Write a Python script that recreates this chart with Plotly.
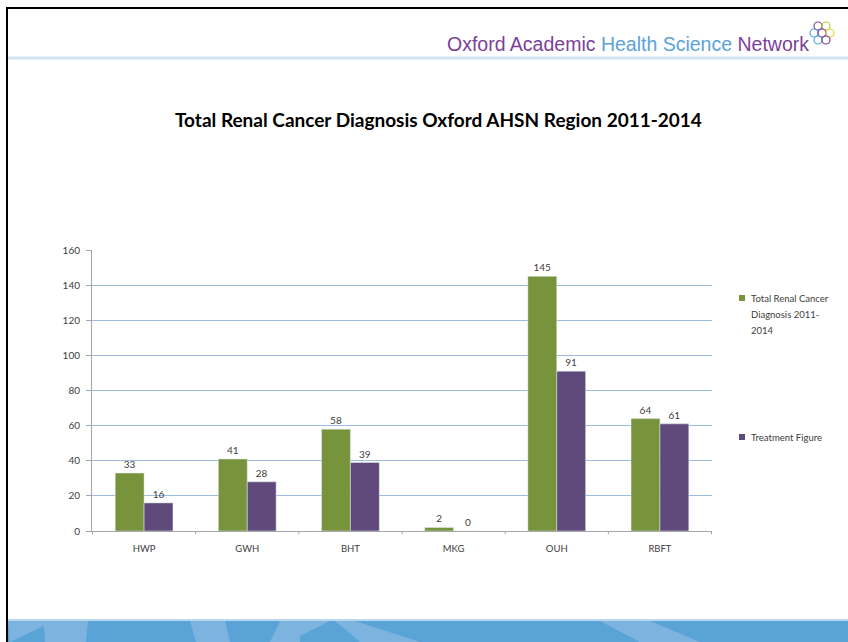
import plotly.graph_objects as go

# data
trusts = ["HWP", "GWH", "BHT", "MKG", "OUH", "RBFT"]
diagnosis = [33, 41, 58, 2, 145, 64]
treatment = [16, 28, 39, 0, 91, 61]
y_ticks = [0, 20, 40, 60, 80, 100, 120, 140, 160]
series_names = ["Total Renal Cancer Diagnosis 2011-2014", "Treatment Figure"]

GREEN = "#77933C"
PURPLE = "#604A7B"
GRID = "#9DBBDF"
TXT = "#404040"

fig = go.Figure()
for vals, name, col in [(diagnosis, series_names[0], GREEN), (treatment, series_names[1], PURPLE)]:
    fig.add_trace(go.Bar(
        x=trusts, y=vals, name=name, marker=dict(color=col),
        text=vals, textposition="outside", cliponaxis=False,
        textfont=dict(size=10, color=TXT, family="Lato"),
    ))

# the slide furniture is easier in pixel coordinates, via a helper
W, H = 848, 642
L, R, T, B = 92, 136, 250, 111
pw, ph = W - L - R, H - T - B

def px(x):
    return (x - L) / pw

def py(y):
    return (H - B - y) / ph

shapes = [
    dict(type="line", xref="paper", yref="paper", x0=px(6), x1=px(848), y0=py(8), y1=py(8),
         line=dict(color="black", width=2)),
    dict(type="line", xref="paper", yref="paper", x0=px(7), x1=px(7), y0=py(8), y1=py(642),
         line=dict(color="black", width=2)),
    dict(type="line", xref="paper", yref="paper", x0=px(8), x1=px(848), y0=py(58), y1=py(58),
         line=dict(color="#CFE3F3", width=3)),
    # footer band
    dict(type="rect", xref="paper", yref="paper", x0=px(8), x1=px(848), y0=py(620), y1=py(642),
         fillcolor="#59A3D7", line=dict(width=0), layer="below"),
    dict(type="line", xref="paper", yref="paper", x0=px(8), x1=px(848), y0=py(620), y1=py(620),
         line=dict(color="#B9D8EE", width=2)),
]

def poly(pts, color):
    path = "M " + " L ".join(f"{px(a)},{py(b)}" for a, b in pts) + " Z"
    return dict(type="path", xref="paper", yref="paper", path=path,
                fillcolor=color, line=dict(width=0), layer="below")

LIGHT = "#7DB3DF"
shapes += [
    poly([(8, 621), (88, 621), (86, 642), (45, 642), (44, 626), (10, 642)], LIGHT),
    poly([(190, 621), (225, 621), (230, 642), (196, 642)], LIGHT),
    poly([(280, 621), (330, 621), (300, 636), (300, 642), (270, 642)], LIGHT),
    poly([(335, 621), (355, 621), (420, 642), (360, 642)], LIGHT),
    poly([(600, 621), (650, 621), (700, 642), (640, 642)], LIGHT),
]

# little network logo next to header text
logo = [(818, 26, "#7B3F9B"), (826, 26, "#B5CF3A"), (814, 33, "#5BA3D9"),
        (822, 33, "#7B3F9B"), (830, 33, "#E8D43A"), (818, 40, "#5BA3D9"), (826, 40, "#7B3F9B")]
for cx, cy, col in logo:
    shapes.append(dict(type="circle", xref="paper", yref="paper",
                       x0=px(cx - 4), x1=px(cx + 4), y0=py(cy + 4), y1=py(cy - 4),
                       line=dict(color=col, width=1.2)))

# hand-made legend (Excel style: small square, text wrapped)
for top, col in [(295, GREEN), (434, PURPLE)]:
    shapes.append(dict(type="rect", xref="paper", yref="paper",
                       x0=px(739), x1=px(745), y0=py(top + 6), y1=py(top),
                       fillcolor=col, line=dict(width=0)))

annotations = [
    dict(text="<b>Total Renal Cancer Diagnosis Oxford AHSN Region 2011-2014</b>",
         xref="paper", yref="paper", x=px(438), y=py(119), showarrow=False,
         font=dict(family="Lato", size=19, color="black"), xanchor="center", yanchor="middle"),
    dict(text="<span style='color:#7B3F9B'>Oxford Academic </span>"
              "<span style='color:#5BA3D9'>Health Science </span>"
              "<span style='color:#7B3F9B'>Network</span>",
         xref="paper", yref="paper", x=px(811), y=py(44), showarrow=False,
         font=dict(family="Liberation Sans", size=19.5), xanchor="right", yanchor="middle"),
]
legend_lines = [("Total Renal Cancer", 298), ("Diagnosis 2011-", 314), ("2014", 330),
                (series_names[1], 437)]
for txt, yy in legend_lines:
    annotations.append(dict(text=txt, xref="paper", yref="paper", x=px(749), y=py(yy),
                            showarrow=False, xanchor="left", yanchor="middle",
                            font=dict(family="Lato", size=9.5, color=TXT)))

fig.update_layout(
    width=W, height=H, autosize=False, showlegend=False,
    margin=dict(l=L, r=R, t=T, b=B, pad=0, autoexpand=False),
    paper_bgcolor="white", plot_bgcolor="white",
    barmode="group", bargap=0.44, bargroupgap=0,
    font=dict(family="Lato", size=9.5, color=TXT),
    xaxis=dict(showline=True, linecolor="#A6A6A6", linewidth=1,
               ticks="", tickfont=dict(size=9.5, color=TXT), ticklabelstandoff=9),
    yaxis=dict(range=[0, 160], tickvals=y_ticks, showgrid=True, gridcolor=GRID, gridwidth=1,
               showline=True, linecolor="#A6A6A6", linewidth=1, ticks="outside", ticklen=5,
               tickcolor="#A6A6A6", zeroline=False, tickfont=dict(size=10, color=TXT),
               ticklabelstandoff=4),
    shapes=shapes, annotations=annotations,
)

# category separator ticks on the x axis
for i in range(len(trusts) + 1):
    fig.add_shape(type="line", xref="x", yref="paper", x0=i - 0.5, x1=i - 0.5, y0=0, y1=-0.012,
                  line=dict(color="#A6A6A6", width=1))

fig.write_html(
    "out.html",
    config={"responsive": False, "displayModeBar": False},
    post_script="document.body.style.margin='0';document.body.style.overflow='hidden';",
)
